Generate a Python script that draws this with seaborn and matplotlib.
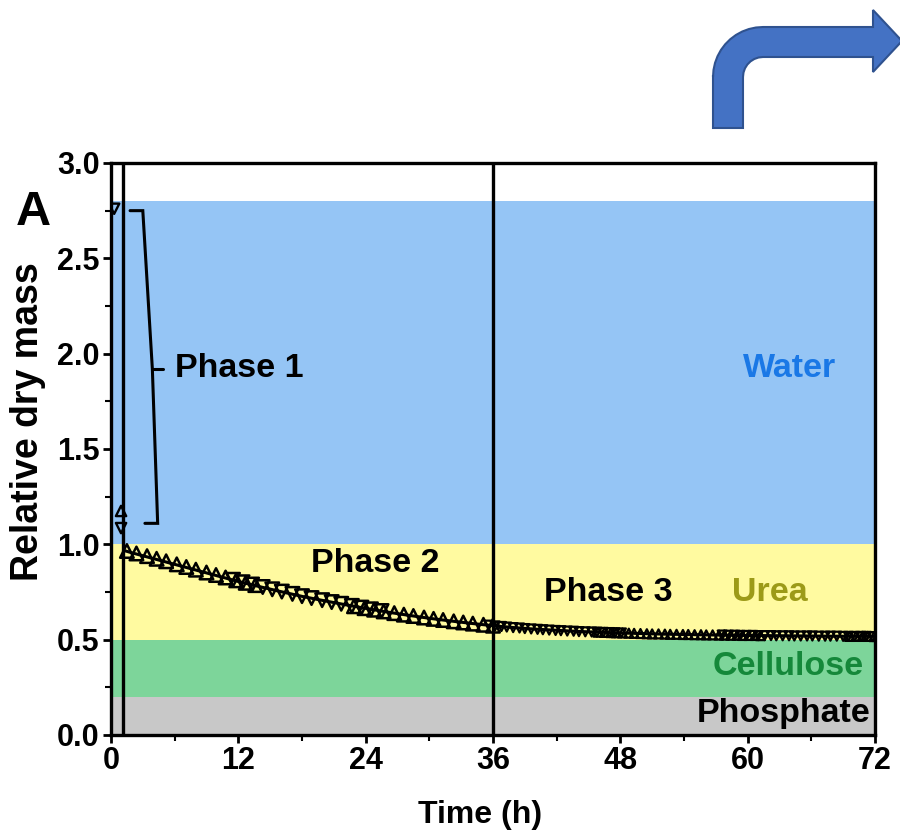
import numpy as np
import pandas as pd
import matplotlib
matplotlib.use("Agg")
import matplotlib.pyplot as plt
import seaborn as sns
from matplotlib.path import Path
from matplotlib.patches import PathPatch

# ---------------- data ----------------
bands = ["Phosphate", "Cellulose", "Urea", "Water"]
band_low = [0.0, 0.2, 0.5, 1.0]
band_high = [0.2, 0.5, 1.0, 2.8]
band_colors = ["#c8c8c8", "#7dd59a", "#fffaa0", "#95c5f5"]

phase_bounds = [1.1, 36.0]

# phase 1 points
p1_up_t = [0.95]
p1_up_y = [1.175]
p1_down_t = [0.3, 0.95]
p1_down_y = [2.76, 1.085]

# phase 2 (larger markers)
up_a_t = [1.5, 2.4, 3.4, 4.3, 5.2, 6.2, 7.1, 8.0, 9.0, 9.9, 10.8, 11.8, 12.7, 13.6]
up_a_y = [0.965, 0.952, 0.938, 0.924, 0.911, 0.895, 0.881, 0.867, 0.852, 0.839,
          0.826, 0.811, 0.798, 0.786]
down_a_t = [11.5, 12.4, 13.3, 14.3, 15.2, 16.1, 17.1, 18.0, 18.9, 19.9, 20.8, 21.7,
            22.7, 23.6, 24.5, 25.5]
down_a_y = [0.814, 0.801, 0.789, 0.776, 0.764, 0.752, 0.740, 0.728, 0.718, 0.707,
            0.697, 0.688, 0.677, 0.668, 0.659, 0.650]
up_b_t = [22.9, 23.9, 24.8, 25.7, 26.7, 27.6, 28.5, 29.5, 30.4, 31.3, 32.3, 33.2,
          34.1, 35.1, 36.0]
up_b_y = [0.675, 0.665, 0.657, 0.648, 0.639, 0.631, 0.624, 0.616, 0.609, 0.603,
          0.596, 0.590, 0.584, 0.578, 0.573]

# phase 3 (smaller markers)
down_b_t = [35.6, 36.2, 36.8, 37.3, 37.9, 38.5, 39.0, 39.6, 40.2, 40.7, 41.3, 41.9,
            42.4, 43.0, 43.6, 44.1, 44.7, 45.3, 45.8, 46.4, 47.0, 47.5, 48.1]
down_b_y = [0.576, 0.572, 0.569, 0.566, 0.563, 0.561, 0.558, 0.556, 0.554, 0.552,
            0.550, 0.548, 0.547, 0.545, 0.544, 0.542, 0.541, 0.540, 0.539, 0.538,
            0.537, 0.536, 0.535]
up_c_t = [45.9, 46.5, 47.1, 47.6, 48.2, 48.8, 49.3, 49.9, 50.5, 51.0, 51.6, 52.2,
          52.7, 53.3, 53.9, 54.4, 55.0, 55.6, 56.1, 56.7, 57.3, 57.8, 58.4, 59.0,
          59.5, 60.1, 60.7, 61.2]
up_c_y = [0.539, 0.538, 0.537, 0.536, 0.535, 0.534, 0.533, 0.532, 0.531, 0.530,
          0.530, 0.529, 0.528, 0.528, 0.527, 0.527, 0.526, 0.526, 0.525, 0.525,
          0.524, 0.524, 0.523, 0.523, 0.522, 0.522, 0.522, 0.521]
down_c_t = [57.6, 58.2, 58.8, 59.3, 59.9, 60.5, 61.0, 61.6, 62.2, 62.7, 63.3, 63.9,
            64.4, 65.0, 65.6, 66.1, 66.7, 67.3, 67.8, 68.4, 69.0, 69.5, 70.1, 70.7,
            71.2, 71.8]
down_c_y = [0.524, 0.523, 0.523, 0.522, 0.522, 0.522, 0.521, 0.521, 0.521, 0.520,
            0.520, 0.520, 0.519, 0.519, 0.519, 0.519, 0.518, 0.518, 0.518, 0.518,
            0.517, 0.517, 0.517, 0.517, 0.517, 0.516]
up_d_t = [69.6, 70.2, 70.8, 71.3, 71.9]
up_d_y = [0.517, 0.517, 0.517, 0.517, 0.516]

# fitted curve
fit_t = [1.2, 2, 4, 6, 8, 10, 12, 14, 16, 18, 20, 22, 24, 26, 28, 30, 32, 34, 36,
         38, 40, 44, 48, 52, 56, 60, 64, 68, 72]
fit_y = [0.968, 0.955, 0.925, 0.895, 0.865, 0.835, 0.805, 0.778, 0.752, 0.727,
         0.705, 0.684, 0.664, 0.645, 0.628, 0.612, 0.598, 0.585, 0.573, 0.563,
         0.555, 0.543, 0.535, 0.529, 0.525, 0.522, 0.520, 0.518, 0.517]

x_ticks = [0, 12, 24, 36, 48, 60, 72]
y_ticks = [0.0, 0.5, 1.0, 1.5, 2.0, 2.5, 3.0]

# ---------------- style ----------------
sns.set_theme(style="white")
plt.rcParams["font.family"] = ["Liberation Sans", "DejaVu Sans"]
plt.rcParams["font.weight"] = "bold"

fig = plt.figure(figsize=(9, 8.35), dpi=100)
ax = fig.add_axes([0.1233, 0.1198, 0.8489, 0.685])

# bands
for lo, hi, c in zip(band_low, band_high, band_colors):
    ax.axhspan(lo, hi, color=c, lw=0, zorder=0)

# phase boundaries
for xb in phase_bounds:
    ax.axvline(xb, color="black", lw=2.4, zorder=2)

# fit line
sns.lineplot(x=fit_t, y=fit_y, ax=ax, color="black", lw=2.2, zorder=3)

def pts(t, y, marker, s, lw):
    sns.scatterplot(x=t, y=y, ax=ax, marker=marker, s=s, facecolor="none",
                    edgecolor="black", linewidth=lw, zorder=4)

pts(p1_up_t, p1_up_y, "^", 55, 1.7)
pts(p1_down_t, p1_down_y, "v", 55, 1.7)
pts(up_a_t, up_a_y, "^", 95, 1.8)
pts(down_a_t, down_a_y, "v", 95, 1.8)
pts(up_b_t, up_b_y, "^", 95, 1.8)
pts(down_b_t, down_b_y, "v", 42, 1.6)
pts(up_c_t, up_c_y, "^", 42, 1.6)
pts(down_c_t, down_c_y, "v", 42, 1.6)
pts(up_d_t, up_d_y, "^", 42, 1.6)

# phase 1 bracket
ax.plot([1.8, 3.0, 3.9, 4.4, 3.2], [2.75, 2.75, 1.92, 1.11, 1.11],
        color="black", lw=2.2, zorder=5, solid_joinstyle="miter")
ax.plot([3.9, 4.9], [1.92, 1.92], color="black", lw=2.2, zorder=5)

tk = dict(fontsize=24.5, fontweight="bold", zorder=6)
ax.text(6.0, 1.92, "Phase 1", ha="left", va="center", color="black", **tk)
ax.text(24.9, 0.90, "Phase 2", ha="center", va="center", color="black", **tk)
ax.text(46.9, 0.745, "Phase 3", ha="center", va="center", color="black", **tk)
ax.text(62.1, 0.745, "Urea", ha="center", va="center", color="#9c9a18", **tk)
ax.text(64.0, 1.92, "Water", ha="center", va="center", color="#1a78e6", **tk)
ax.text(70.9, 0.357, "Cellulose", ha="right", va="center", color="#15883a", **tk)
ax.text(71.6, 0.11, "Phosphate", ha="right", va="center", color="black", **tk)

ax.set_xlim(0, 72)
ax.set_ylim(0, 3.0)
ax.set_xticks(x_ticks)
ax.set_xticklabels([str(v) for v in x_ticks])
ax.set_yticks(y_ticks)
ax.set_yticklabels([f"{v:.1f}" for v in y_ticks])
ax.set_xticks([6, 18, 30, 42, 54, 66], minor=True)
ax.set_yticks([0.25, 0.75, 1.25, 1.75, 2.25, 2.75], minor=True)
ax.tick_params(axis="both", which="major", direction="out", length=6, width=2,
               labelsize=22, color="black", labelcolor="black", pad=2,
               bottom=True, left=True)
ax.tick_params(axis="both", which="minor", direction="out", length=4, width=1.5,
               color="black", bottom=True, left=True)
for lab in ax.get_xticklabels() + ax.get_yticklabels():
    lab.set_fontweight("bold")

for sp in ax.spines.values():
    sp.set_visible(True)
    sp.set_color("black")
    sp.set_linewidth(2.4)

ax.set_xlabel("Time (h)", fontsize=23, fontweight="bold", color="black")
ax.set_ylabel("Relative dry mass", fontsize=27, fontweight="bold", color="black")
ax.xaxis.label.set_va("center")
ax.yaxis.label.set_va("center")
ax.xaxis.set_label_coords(0.483, -0.14)
ax.yaxis.set_label_coords(-0.108, 0.547)

fig.text(0.037, 0.745, "A", fontsize=35, fontweight="bold", ha="center",
         va="center", color="black")

# bent arrow decoration (figure pixel coords -> fraction)
W, H = 900.0, 835.0
def fp(x, y):
    return (x / W, 1 - y / H)

arrow_px = [(713, 128), (713, 75)]
for a in np.linspace(np.pi, np.pi / 2, 12):
    arrow_px.append((763 + 50 * np.cos(a), 77 - 50 * np.sin(a)))
arrow_px += [(873, 27), (873, 10), (902, 41), (873, 72), (873, 57), (763, 57)]
for a in np.linspace(np.pi / 2, np.pi, 8):
    arrow_px.append((763 + 20 * np.cos(a), 77 - 20 * np.sin(a)))
arrow_px += [(743, 128), (713, 128)]
verts = [fp(x, y) for x, y in arrow_px]
codes = [Path.MOVETO] + [Path.LINETO] * (len(verts) - 2) + [Path.CLOSEPOLY]
patch = PathPatch(Path(verts, codes), facecolor="#4472c4", edgecolor="#2f528f",
                  lw=1.5, transform=fig.transFigure, clip_on=False)
fig.patches.append(patch)

fig.savefig("out.png", dpi=100, facecolor="white")
